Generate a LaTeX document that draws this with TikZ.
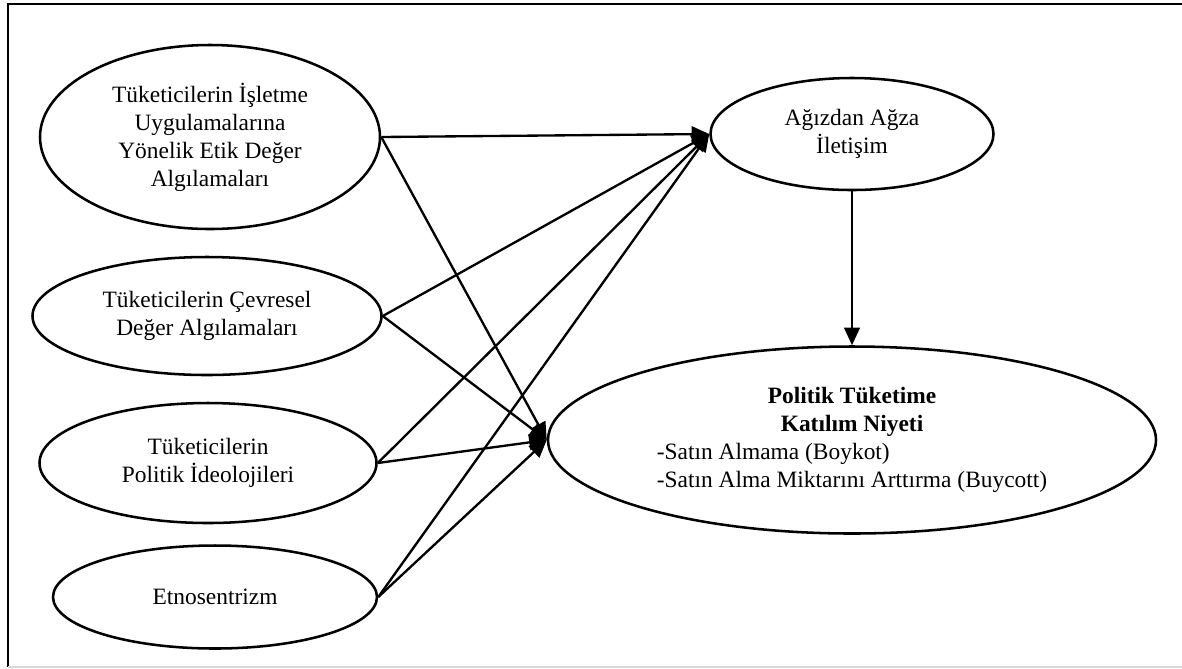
\documentclass[tikz,border=0pt]{standalone}
\usepackage{fontspec}
\setmainfont{Liberation Serif}
\usetikzlibrary{shapes.geometric,arrows.meta}
\tikzset{
    kavram/.style={draw, ellipse, line width=1.3pt, inner sep=0pt, align=center,
        font=\fontsize{12}{14.3}\selectfont},
    yol/.style={line width=1.2pt, -{Triangle[length=9pt,width=8pt]}}
}
\begin{document}
\begin{tikzpicture}[x=0.018cm, y=-0.018cm]
        \useasboundingbox (0,0) rectangle (1182,668);
        % cerceve
        \draw[line width=0.9pt] (8,667) -- (8,4) -- (1190,4);
        \draw[line width=0.8pt, black!15] (8,667) -- (1190,667);
        % sol taraf
        \node[kavram, minimum width=340*0.018cm, minimum height=184*0.018cm] (etik) at (210,137)
            {Tüketicilerin İşletme\\Uygulamalarına\\Yönelik Etik Değer\\Algılamaları};
        \node[kavram, minimum width=349*0.018cm, minimum height=118*0.018cm] (cevre) at (207,316)
            {Tüketicilerin Çevresel\\Değer Algılamaları};
        \node[kavram, minimum width=337*0.018cm, minimum height=120*0.018cm] (ideoloji) at (208,463)
            {Tüketicilerin\\Politik İdeolojileri};
        \node[kavram, minimum width=324*0.018cm, minimum height=103*0.018cm] (etno) at (215,597)
            {Etnosentrizm};
        % sag taraf
        \node[kavram, minimum width=283*0.018cm, minimum height=112*0.018cm] (wom) at (852,134)
            {Ağızdan Ağza\\İletişim};
        \node[kavram, minimum width=608*0.018cm, minimum height=187*0.018cm] (niyet) at (852,440)
            {\begin{tabular}{@{}l@{}}
             \multicolumn{1}{c}{\textbf{Politik Tüketime}}\\
             \multicolumn{1}{c}{\textbf{Katılım Niyeti}}\\
             -Satın Almama (Boykot)\\
             -Satın Alma Miktarını Arttırma (Buycott)
             \end{tabular}};
        % oklar
        \foreach \kaynak in {etik, cevre, ideoloji, etno} {
            \draw[yol] (\kaynak.east) -- (wom.west);
            \draw[yol] (\kaynak.east) -- (niyet.west);
        }
        \draw[yol] (wom.south) -- (niyet.north);
    \end{tikzpicture}
\end{document}
